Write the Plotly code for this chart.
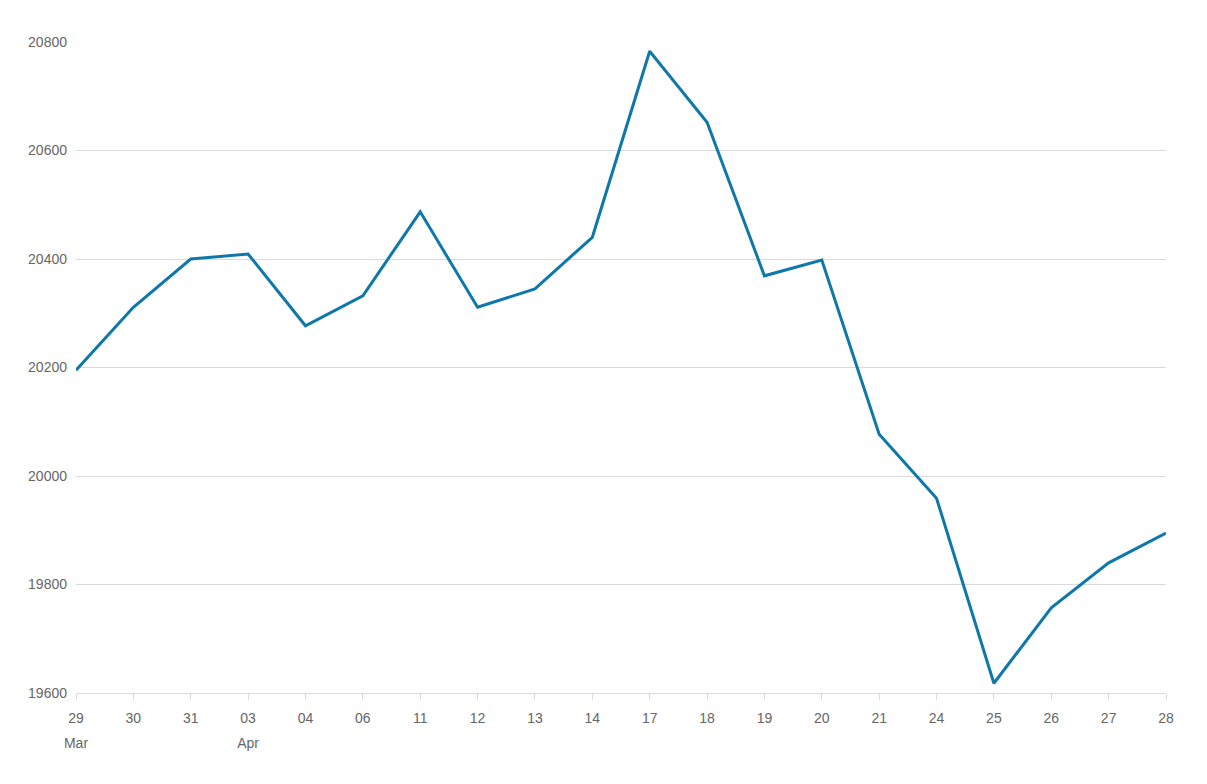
import plotly.graph_objects as go

# dates (category axis, trading days only)
days = ["29", "30", "31", "03", "04", "06", "11", "12", "13", "14",
        "17", "18", "19", "20", "21", "24", "25", "26", "27", "28"]
months = ["Mar", "", "", "Apr", "", "", "", "", "", "",
          "", "", "", "", "", "", "", "", "", ""]
values = [20195, 20311, 20400, 20409, 20277, 20332, 20487, 20311, 20345, 20440,
          20783, 20652, 20369, 20398, 20077, 19959, 19618, 19757, 19840, 19895]
y_ticks = [19600, 19800, 20000, 20200, 20400, 20600, 20800]

fig = go.Figure()
fig.add_trace(go.Scatter(x=days, y=values, mode="lines",
                         line=dict(color="#0f78aa", width=3),
                         hoverinfo="x+y"))
# invisible copy, only to carry the month row on a second x axis
fig.add_trace(go.Scatter(x=days, y=values, mode="lines", xaxis="x2",
                         line=dict(color="rgba(0,0,0,0)", width=0),
                         hoverinfo="skip"))

grid = "#dcd8df"
tf = dict(size=14, color="#666666")
fig.update_layout(
    width=1207, height=784,
    margin=dict(l=68, r=49, t=34, b=99),
    plot_bgcolor="white", paper_bgcolor="white",
    font=dict(family="Liberation Sans, Arial, sans-serif"),
    showlegend=False,
    xaxis=dict(type="category", range=[0, len(days) - 1],
               showgrid=False, showline=True, linecolor="#e8d6dc", linewidth=1,
               ticks="outside", ticklen=6, tickcolor=grid,
               ticklabelstandoff=6, tickfont=tf, zeroline=False),
    xaxis2=dict(type="category", overlaying="x", side="bottom",
                range=[0, len(days) - 1], matches="x",
                tickvals=[d for d, m in zip(days, months) if m],
                ticktext=[m for m in months if m],
                showgrid=False, showline=False, ticks="",
                ticklabelstandoff=40, tickfont=tf, zeroline=False),
    yaxis=dict(range=[19600, 20800], tickvals=y_ticks, tickformat="d",
               showgrid=True, gridcolor=grid, gridwidth=1, zeroline=False,
               ticks="", ticklabelstandoff=8, tickfont=tf),
)

fig.write_html("out.html")
